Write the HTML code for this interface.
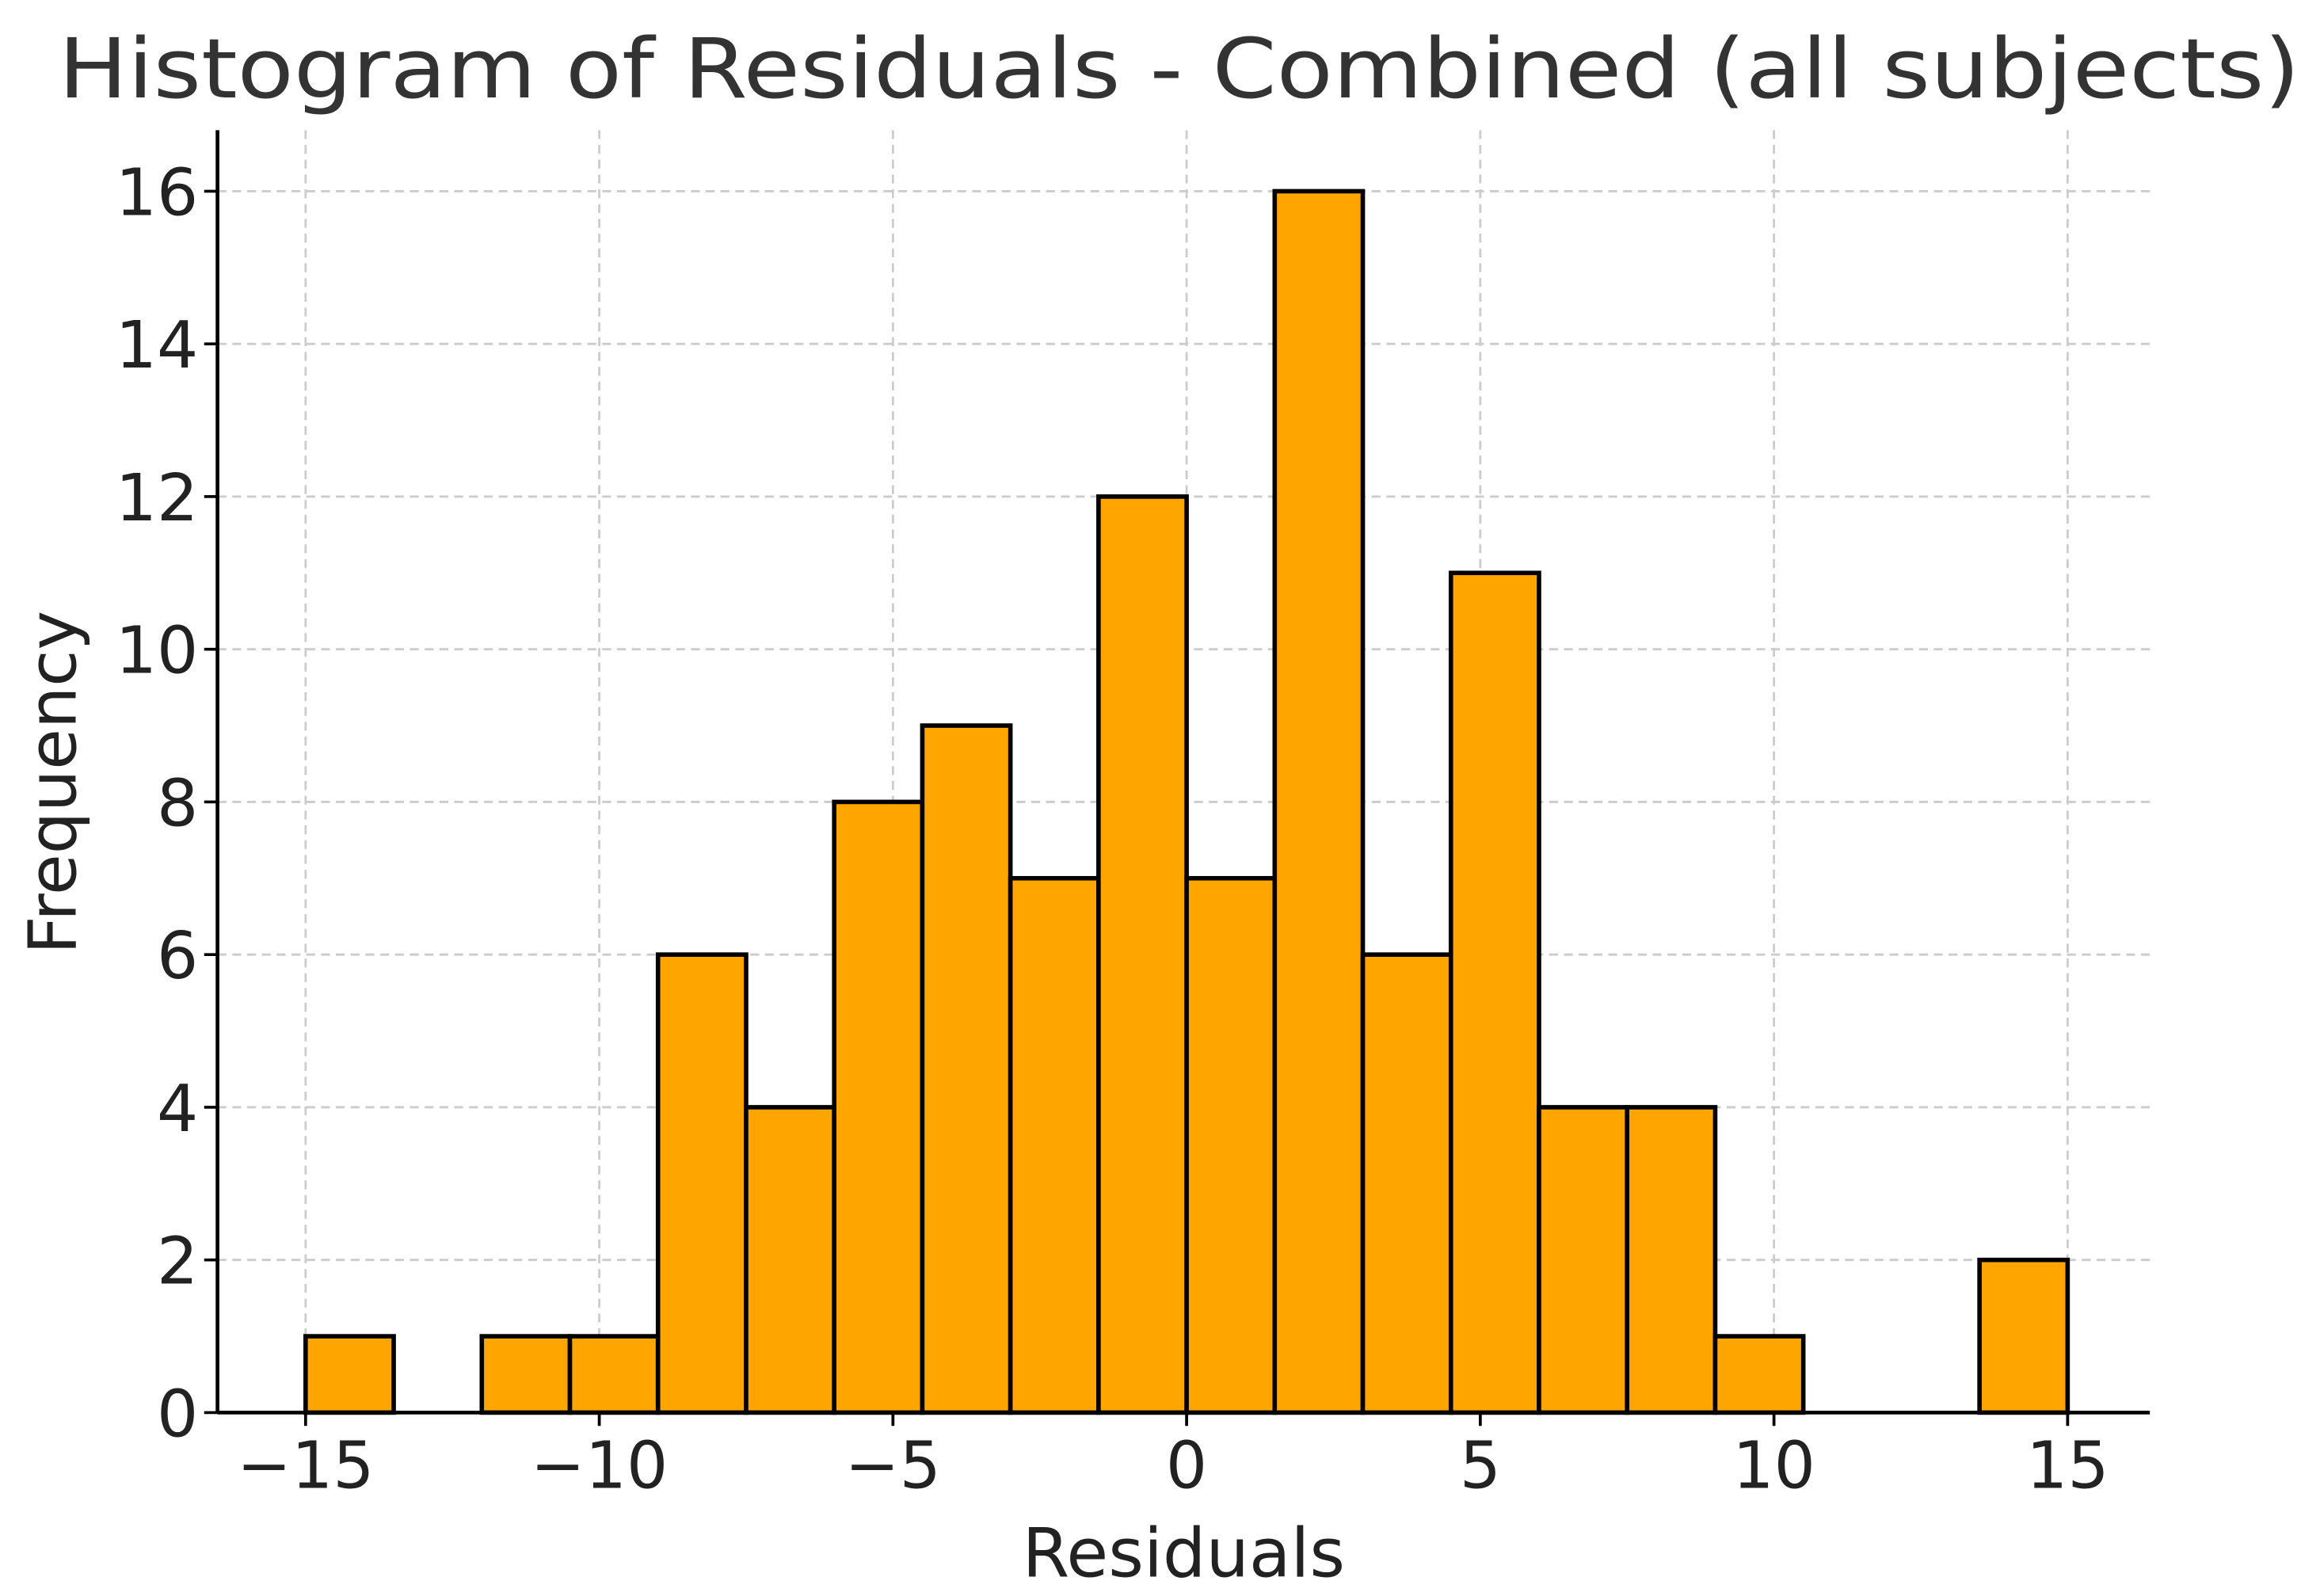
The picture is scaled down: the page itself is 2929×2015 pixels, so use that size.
<!DOCTYPE html>
<html><head><meta charset="utf-8">
<style>
html,body{margin:0;padding:0;background:#fff;}
svg{display:block;}
text{font-family:"DejaVu Sans","Liberation Sans",sans-serif;}
</style></head>
<body>
<svg id="chart" width="2929" height="2015" viewBox="0 0 1568 1079" preserveAspectRatio="none" xmlns="http://www.w3.org/2000/svg">
<text x="797" y="66" font-size="56" fill="#333" text-anchor="middle" textLength="1515" lengthAdjust="spacingAndGlyphs">Histogram of Residuals - Combined (all subjects)</text>
<g id="grid"></g>
<g id="bars"></g>
<g id="axes"></g>
<text x="800" y="1066" font-size="46" fill="#222" text-anchor="middle">Residuals</text>
<text transform="translate(51,529) rotate(-90)" font-size="45" fill="#222" text-anchor="middle">Frequency</text>
</svg>
<script>
const binStart = -15;
const binWidth = 1.5;
const counts = [1,0,1,1,6,4,8,9,7,12,7,16,6,11,4,4,1,0,0,2];
const xTicks = [-15,-10,-5,0,5,10,15];
const xTickLabels = ["\u221215","\u221210","\u22125","0","5","10","15"];
const yTicks = [0,2,4,6,8,10,12,14,16];
const yTickLabels = ["0","2","4","6","8","10","12","14","16"];

const L=147,R=1453,T=88,B=955;
const xMin=-16.5,xMax=16.4,yMax=16.8;
function xs(v){return L+(v-xMin)/(xMax-xMin)*(R-L);}
function ys(v){return B-v/yMax*(B-T);}
const NS="http://www.w3.org/2000/svg";
function mk(tag,attrs,parent){const e=document.createElementNS(NS,tag);for(const k in attrs)e.setAttribute(k,attrs[k]);parent.appendChild(e);return e;}
const grid=document.getElementById('grid'),bars=document.getElementById('bars'),axes=document.getElementById('axes');

xTicks.forEach((t,i)=>{
  const g=mk('line',{x1:xs(t),x2:xs(t),y1:T,y2:B,stroke:'#ccc','stroke-width':1.5,'stroke-dasharray':'6,4'},grid);
  
  
  const tk=mk('line',{x1:xs(t),x2:xs(t),y1:B,y2:B+9,stroke:'#000','stroke-width':2},axes);
  
  
  const lb=mk('text',{x:xs(t),y:1006,'font-size':44,fill:'#222','text-anchor':'middle'},axes);
  lb.textContent=xTickLabels[i];
  
  
});
yTicks.forEach((t,i)=>{
  const g=mk('line',{x1:L,x2:R,y1:ys(t),y2:ys(t),stroke:'#ccc','stroke-width':1.5,'stroke-dasharray':'6,4'},grid);
  
  
  const tk=mk('line',{x1:L-9,x2:L,y1:ys(t),y2:ys(t),stroke:'#000','stroke-width':2},axes);
  
  
  const lb=mk('text',{x:L-13,y:ys(t)+16,'font-size':44,fill:'#222','text-anchor':'end'},axes);
  lb.textContent=yTickLabels[i];
  
  
});
counts.forEach((c,i)=>{
  if(c<=0) return;
  const x0=binStart+i*binWidth,x1=x0+binWidth;
  const r=mk('rect',{x:xs(x0),y:ys(c),width:xs(x1)-xs(x0),height:ys(0)-ys(c),fill:'#FFA500',stroke:'#000','stroke-width':3},bars);
  
  
});
const sl=mk('line',{x1:L,x2:L,y1:T,y2:B,stroke:'#000','stroke-width':2.5},axes);


const sb=mk('line',{x1:L,x2:R,y1:B,y2:B,stroke:'#000','stroke-width':2.5},axes);


</script>
</body></html>
